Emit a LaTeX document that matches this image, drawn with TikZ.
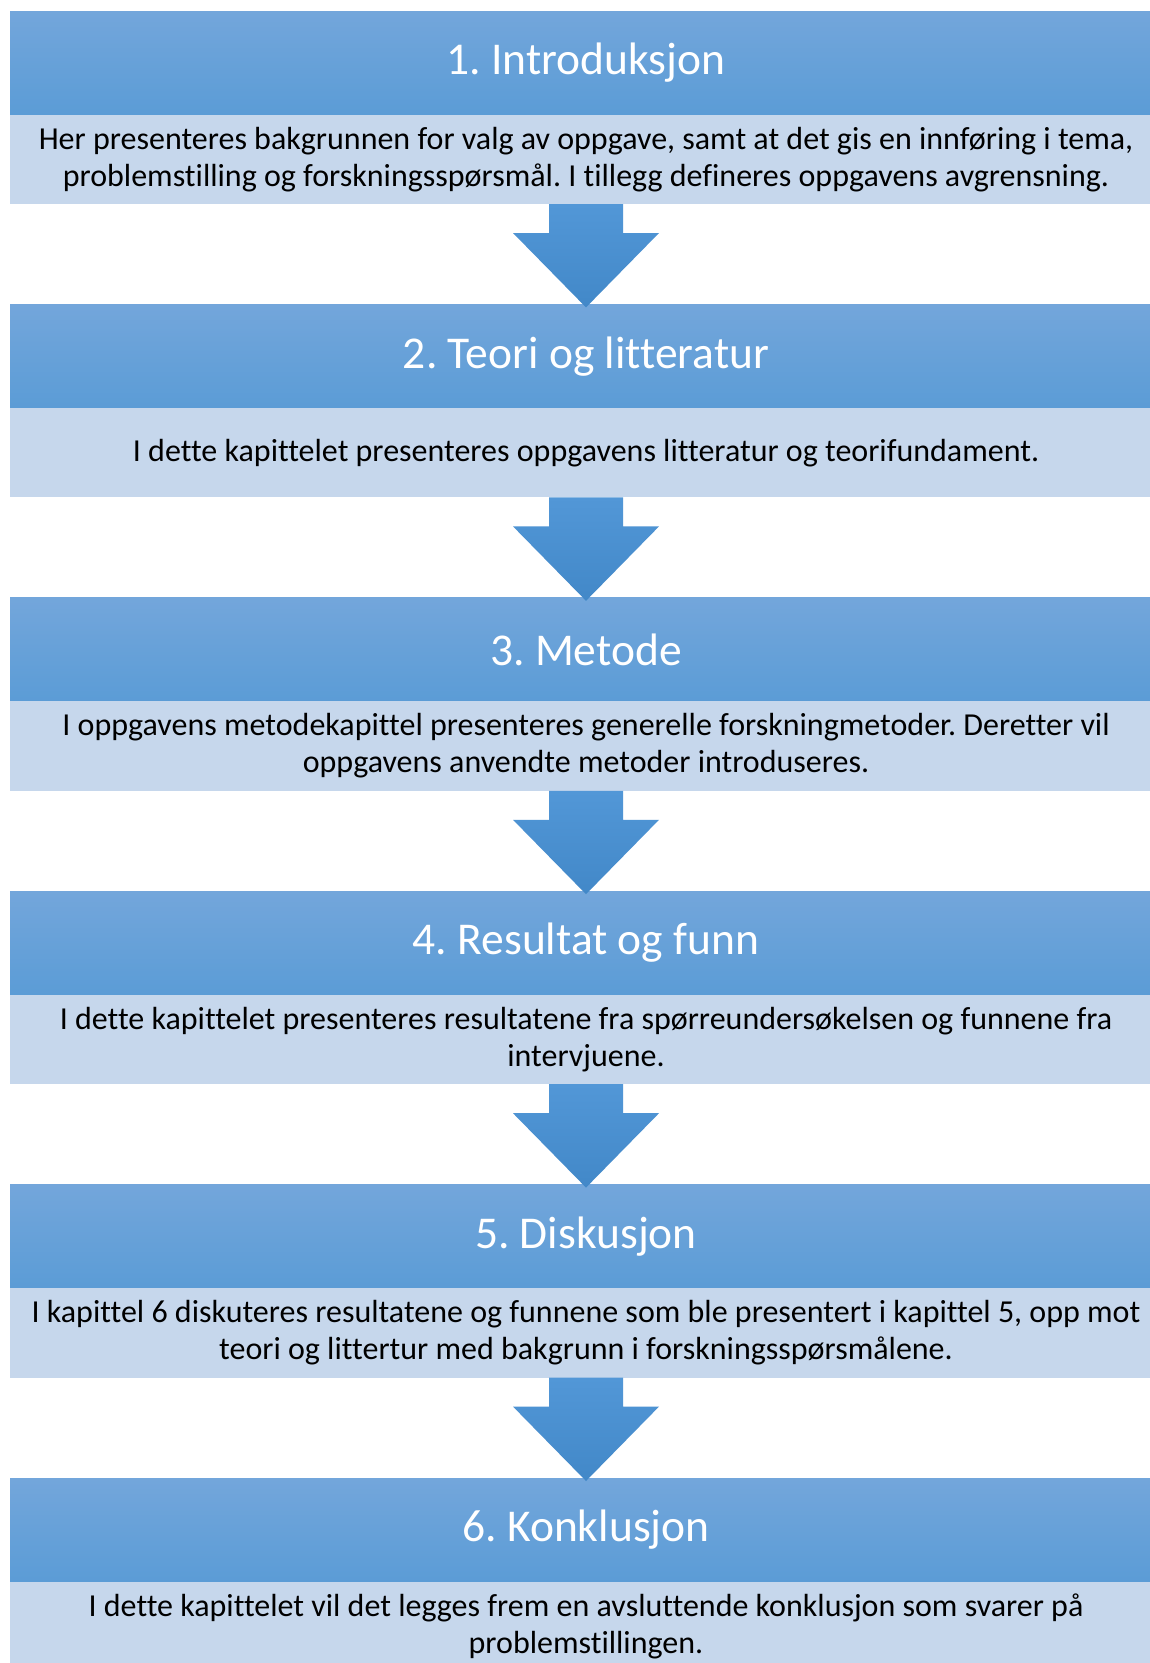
\documentclass[tikz,border=0pt]{standalone}
\usepackage{fontspec}
\setmainfont{Carlito}[Ligatures=NoCommon]
\usetikzlibrary{calc}
\frenchspacing

\definecolor{headtop}{RGB}{115,166,219}
\definecolor{headbot}{RGB}{91,156,214}
\definecolor{bodyfill}{RGB}{198,215,236}
\definecolor{arrowtop}{RGB}{82,151,215}
\definecolor{arrowbot}{RGB}{66,136,200}

\tikzset{
  headbox/.style={rectangle, anchor=north, inner sep=0pt, outer sep=0pt,
    minimum width=1152pt, minimum height=103.5pt,
    top color=headtop, bottom color=headbot, text=white,
    font=\fontsize{45.5}{54}\selectfont},
  bodybox/.style={rectangle, anchor=north, inner sep=0pt, outer sep=0pt,
    minimum width=1152pt, minimum height=89.5pt, fill=bodyfill,
    text=black, align=center, font=\fontsize{32}{37}\selectfont},
  downarrow/.style={top color=arrowtop, bottom color=arrowbot, draw=none},
}

% block arrow from the bottom of one body box to the top of the next header
\newcommand{\flowarrow}[2]{%
  \path[downarrow] let \p1=(#1.south), \p2=(#2.north) in
    (\x1-37pt,\y1) -- (\x1+37pt,\y1) -- (\x1+37pt,\y1-29pt) --
    (\x1+73pt,\y1-29pt) -- (\x1,\y2-3pt) -- (\x1-73pt,\y1-29pt) --
    (\x1-37pt,\y1-29pt) -- cycle;}

\begin{document}
\begin{tikzpicture}[x=1pt,y=-1pt]
  \useasboundingbox (0,0) rectangle (1150,1663);
  \clip (0,0) rectangle (1150,1663);
  \fill[white] (0,0) rectangle (1150,1663);

  \node[headbox] (h1) at (586,11) {1. Introduksjon};
  \node[bodybox] (b1) at (h1.south) {Her presenteres bakgrunnen for valg av oppgave, samt at det gis en innføring i tema,\\problemstilling og forskningsspørsmål. I tillegg defineres oppgavens avgrensning.};

  \node[headbox] (h2) at (586,304.4) {2. Teori og litteratur};
  \node[bodybox] (b2) at (h2.south) {I dette kapittelet presenteres oppgavens litteratur og teorifundament.};

  \node[headbox] (h3) at (586,597.8) {3. Metode};
  \node[bodybox] (b3) at (h3.south) {I oppgavens metodekapittel presenteres generelle forskningmetoder. Deretter vil\\oppgavens anvendte metoder introduseres.};

  \node[headbox] (h4) at (586,891.2) {4. Resultat og funn};
  \node[bodybox] (b4) at (h4.south) {I dette kapittelet presenteres resultatene fra spørreundersøkelsen og funnene fra\\intervjuene.};

  \node[headbox] (h5) at (586,1184.6) {5. Diskusjon};
  \node[bodybox] (b5) at (h5.south) {I kapittel 6 diskuteres resultatene og funnene som ble presentert i kapittel 5, opp mot\\teori og littertur med bakgrunn i forskningsspørsmålene.};

  \node[headbox] (h6) at (586,1478) {6. Konklusjon};
  \node[bodybox] (b6) at (h6.south) {I dette kapittelet vil det legges frem en avsluttende konklusjon som svarer på\\problemstillingen.};

  \flowarrow{b1}{h2}
  \flowarrow{b2}{h3}
  \flowarrow{b3}{h4}
  \flowarrow{b4}{h5}
  \flowarrow{b5}{h6}
\end{tikzpicture}
\end{document}
